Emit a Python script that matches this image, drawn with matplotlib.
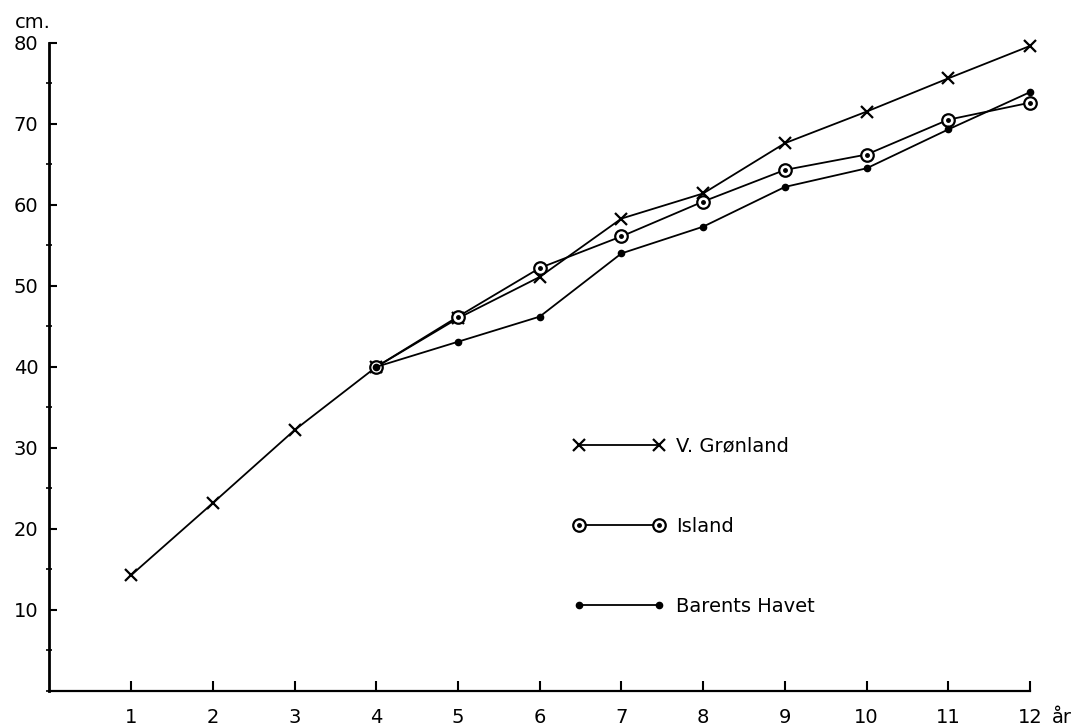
import matplotlib
matplotlib.use("Agg")
import matplotlib.pyplot as plt
from matplotlib.ticker import MultipleLocator
from matplotlib.legend_handler import HandlerTuple

# age in years
ages_gronland = [1, 2, 3, 4, 5, 6, 7, 8, 9, 10, 11, 12]
length_gronland = [14.3, 23.2, 32.2, 40.0, 46.0, 51.1, 58.3, 61.4, 67.6, 71.5, 75.6, 79.6]

ages_island = [4, 5, 6, 7, 8, 9, 10, 11, 12]
length_island = [40.0, 46.2, 52.2, 56.1, 60.4, 64.3, 66.2, 70.5, 72.6]

ages_barents = [4, 5, 6, 7, 8, 9, 10, 11, 12]
length_barents = [40.0, 43.1, 46.2, 54.0, 57.3, 62.2, 64.5, 69.3, 73.9]

x_ticks = list(range(1, 13))
y_ticks = [10, 20, 30, 40, 50, 60, 70, 80]

plt.rcParams["font.family"] = ["DejaVu Sans"]
plt.rcParams["font.size"] = 14

fig = plt.figure(figsize=(10.78, 7.25), dpi=100)
ax = fig.add_axes([0.0459, 0.0469, 0.9096, 0.8942])

lw = 1.3
l1, = ax.plot(ages_gronland, length_gronland, color="black", lw=lw,
              marker="x", markersize=8, markeredgewidth=1.6, clip_on=False)
l2, = ax.plot(ages_island, length_island, color="black", lw=lw,
              marker="o", markersize=9, markerfacecolor="white",
              markeredgewidth=1.6, clip_on=False)
l2c, = ax.plot(ages_island, length_island, ls="none", color="black",
               marker="o", markersize=2.5, clip_on=False)
l3, = ax.plot(ages_barents, length_barents, color="black", lw=lw,
              marker="o", markersize=4.5, clip_on=False)

ax.set_xlim(0, 12)
ax.set_ylim(0, 80)
ax.spines["top"].set_visible(False)
ax.spines["right"].set_visible(False)
ax.spines["left"].set_linewidth(2.0)
ax.spines["bottom"].set_linewidth(1.6)

ax.set_xticks(x_ticks)
ax.set_xticklabels([str(t) for t in x_ticks])
ax.set_yticks(y_ticks)
ax.yaxis.set_minor_locator(MultipleLocator(5))
ax.tick_params(axis="x", direction="in", length=7, width=1.5, pad=12,
               labelsize=14)
ax.tick_params(axis="y", which="major", direction="in", length=6, width=1.5,
               pad=8, labelsize=14)
ax.tick_params(axis="y", which="minor", direction="inout", length=4, width=1.2)

ax.annotate("cm.", xy=(0, 1), xycoords="axes fraction", xytext=(-25, 8),
            textcoords="offset points", ha="left", va="bottom", fontsize=14)
ax.annotate("år", xy=(1, 0), xycoords="axes fraction", xytext=(16, -12),
            textcoords="offset points", ha="left", va="top", fontsize=14)

leg = ax.legend([l1, (l2, l2c), l3], ["V. Grønland", "Island", "Barents Havet"],
                handler_map={tuple: HandlerTuple(ndivide=1, pad=0)},
                loc="center left", bbox_to_anchor=(0.534, 0.254),
                frameon=False, numpoints=2, handlelength=4.7,
                labelspacing=3.15, handletextpad=0.6, fontsize=14,
                borderpad=0, borderaxespad=0)

fig.savefig("out.png", dpi=100)
